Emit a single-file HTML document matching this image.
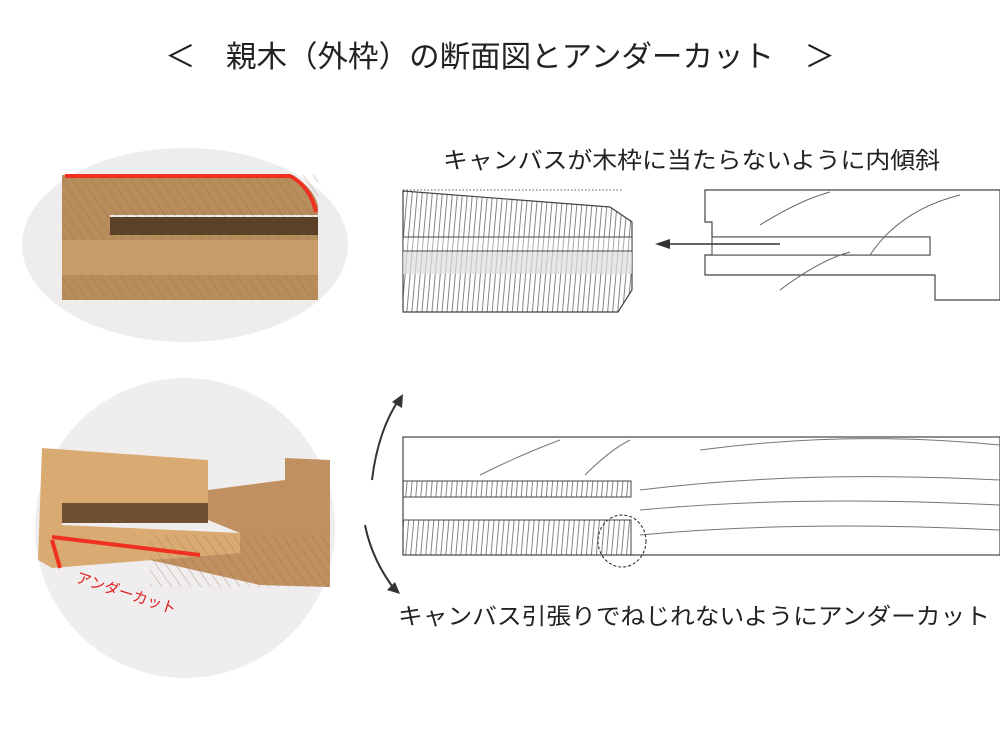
<!DOCTYPE html>
<html><head><meta charset="utf-8"><style>
html,body{margin:0;padding:0;background:#fff;width:1000px;height:750px;overflow:hidden}
svg{display:block}
text{font-family:"Liberation Sans","Noto Sans CJK JP",sans-serif;fill:#222}
</style></head><body>
<svg width="1000" height="750" viewBox="0 0 1000 750" xmlns="http://www.w3.org/2000/svg">
<defs>
<pattern id="hatch" width="5" height="10" patternUnits="userSpaceOnUse" patternTransform="rotate(5)">
<line x1="2.5" y1="0" x2="2.5" y2="10" stroke="#666" stroke-width="0.8"/>
</pattern>
<pattern id="grain" width="8" height="8" patternUnits="userSpaceOnUse" patternTransform="rotate(-35)">
<line x1="4" y1="0" x2="4" y2="8" stroke="#8a6a40" stroke-width="1" opacity="0.5"/>
</pattern>
</defs>
<rect width="1000" height="750" fill="#fff"/>
<text x="165" y="67" font-size="30" textLength="670" lengthAdjust="spacingAndGlyphs">＜　親木（外枠）の断面図とアンダーカット　＞</text>

<!-- top-left photo -->
<ellipse cx="185" cy="245" rx="163" ry="97" fill="#efecec"/>
<path d="M62 175 L290 175 Q312 185 318 205 L318 215 L110 215 L110 235 L318 235 L318 250 L120 250 L120 262 L318 262 L318 300 L62 300 Z" fill="#b88d5c"/>
<rect x="62" y="175" width="256" height="125" fill="url(#grain)" opacity="0.6"/>
<rect x="62" y="240" width="256" height="35" fill="#c89c6a"/>
<rect x="110" y="217" width="208" height="18" fill="#5a4128"/>
<path d="M65 176 L290 176 Q310 186 316 212" fill="none" stroke="#f03020" stroke-width="4"/>

<!-- bottom-left photo -->
<circle cx="185" cy="528" r="150" fill="#efeded"/>
<path d="M42 448 L208 460 L208 515 L62 505 L62 525 L240 533 L240 553 L52 568 L38 560 Z" fill="#d9aa72"/>
<path d="M208 490 L285 480 L285 458 L330 460 L330 587 L260 585 L150 560 L240 553 L240 533 L208 520 Z" fill="#c09060"/>
<rect x="150" y="535" width="180" height="52" fill="url(#grain)" opacity="0.6"/>
<rect x="62" y="503" width="146" height="20" fill="#6e5132"/>
<path d="M52 540 L60 568 M52 537 L200 555" stroke="#f03020" stroke-width="4" fill="none"/>
<text x="75" y="582" font-size="15" style="fill:#e02020" transform="rotate(18 75 582)">アンダーカット</text>

<!-- top right text -->
<text x="443" y="168" font-size="23" textLength="497" lengthAdjust="spacingAndGlyphs">キャンバスが木枠に当たらないように内傾斜</text>

<!-- top right drawing left block -->
<path d="M403 191 L610 207 L632 222 L632 290 L618 312 L403 312 Z" fill="url(#hatch)" stroke="#444" stroke-width="1.2"/>
<rect x="403" y="237" width="229" height="14" fill="#fff" stroke="#444"/>
<rect x="403" y="237" width="229" height="14" fill="url(#hatch)" opacity="0.7"/>
<rect x="403" y="252" width="229" height="22" fill="#ddd" opacity="0.7"/>
<line x1="403" y1="190" x2="622" y2="190" stroke="#555" stroke-dasharray="1.5 2"/>
<!-- right piece -->
<path d="M705 190 L1000 190 L1000 300 L935 300 L935 275 L705 275 L705 255 L930 255 L930 237 L712 237 L712 222 L705 222 Z" fill="#fff" stroke="#444" stroke-width="1.2"/>
<rect x="712" y="237" width="218" height="18" fill="#fff" stroke="#444"/>
<path d="M760 225 Q800 200 830 192 M870 255 Q900 210 960 195 M780 290 Q820 260 850 252" stroke="#666" fill="none"/>
<line x1="780" y1="244" x2="660" y2="244" stroke="#333" stroke-width="1.5"/>
<path d="M655 244 L670 239 L670 249 Z" fill="#333"/>

<!-- bottom right drawing -->
<rect x="403" y="437" width="597" height="118" fill="#fff" stroke="#444" stroke-width="1.2"/>
<rect x="403" y="481" width="228" height="16" fill="url(#hatch)" stroke="#444"/>
<rect x="403" y="520" width="228" height="35" fill="url(#hatch)" stroke="#444"/>
<path d="M480 475 Q520 455 560 440 M585 475 Q610 450 630 440 M640 490 Q800 470 1000 480 M640 510 Q800 495 1000 505 M640 535 Q800 520 1000 530 M700 450 Q850 430 1000 445" stroke="#777" fill="none"/>
<ellipse cx="622" cy="541" rx="24" ry="26" fill="none" stroke="#222" stroke-dasharray="3 2"/>
<!-- curved arrows -->
<path d="M372 480 Q378 430 400 398" stroke="#333" stroke-width="2" fill="none"/>
<path d="M403 394 L392 402 L402 408 Z" fill="#333"/>
<path d="M365 525 Q372 560 395 590" stroke="#333" stroke-width="2" fill="none"/>
<path d="M400 594 L387 590 L395 582 Z" fill="#333"/>

<text x="398" y="624" font-size="23" textLength="592" lengthAdjust="spacingAndGlyphs">キャンバス引張りでねじれないようにアンダーカット</text>
</svg>
</body></html>
